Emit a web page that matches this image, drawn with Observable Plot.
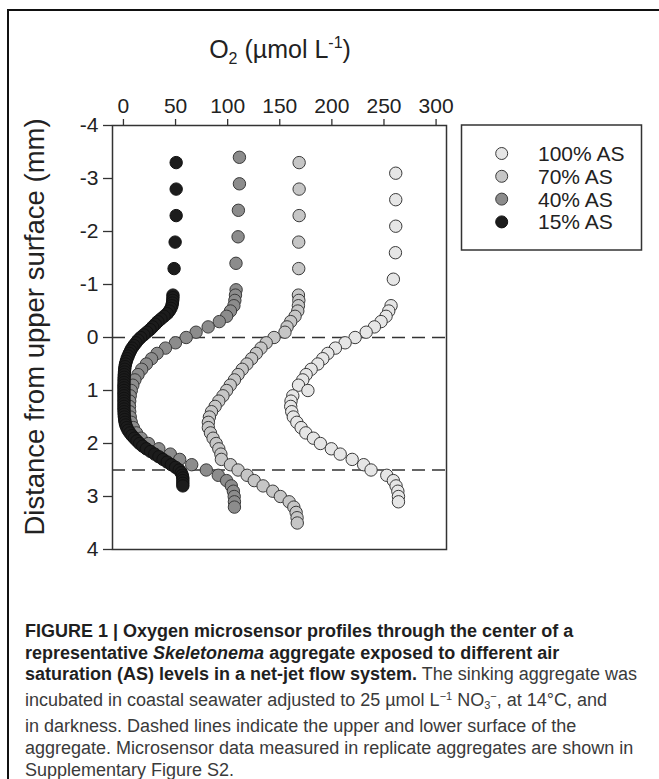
<!DOCTYPE html>
<html>
<head>
<meta charset="utf-8">
<script src="https://cdn.jsdelivr.net/npm/d3@7"></script>
<script src="https://cdn.jsdelivr.net/npm/@observablehq/plot@0.6"></script>
<style>
  html, body { margin: 0; padding: 0; background: #fff; }
  #fig { position: relative; width: 659px; height: 779px; overflow: hidden; background: #fff; font-family: "Liberation Sans", Arial, Helvetica, sans-serif; }
  #border { position: absolute; left: 7px; top: 9px; width: 660px; height: 780px; border-top: 2.5px solid #111; border-left: 2.5px solid #111; box-sizing: border-box; }
  #chart { position: absolute; left: 0; top: 0; }
  #legend { position: absolute; left: 0; top: 0; }
  #caption { position: absolute; left: 25px; top: 621px; width: 630px; font-size: 18px; line-height: 21.6px; color: #3a3a3a; white-space: nowrap; font-family: "Liberation Sans", Arial, sans-serif; }
  #caption b { color: #1f1f1f; }
</style>
</head>
<body>
<div id="fig">
  <div id="border"></div>
  <div id="chart"></div>
  <div id="legend"></div>
  <div id="caption"></div>
</div>
<script>
// ---- data: [depth (mm), O2 (µmol L-1)] ----
const profile15 = [
  [-3.3,50.6],[-2.8,50.6],[-2.3,50.6],[-1.8,49.6],[-1.3,48.6],
  [-0.8,47.5],[-0.75,47.5],[-0.7,47.3],[-0.65,47.0],[-0.6,46.5],[-0.55,45.5],[-0.5,44.0],[-0.45,42.0],
  [-0.4,39.0],[-0.35,36.0],[-0.3,33.0],[-0.25,30.5],[-0.2,28.0],[-0.15,25.5],[-0.1,22.5],[-0.05,19.5],
  [0,16.5],[0.05,14.0],[0.1,12.0],[0.15,10.0],[0.2,8.2],[0.25,6.8],[0.3,5.6],[0.35,4.5],[0.4,3.5],
  [0.45,2.7],[0.5,2.0],[0.55,1.5],[0.6,1.2],[0.65,1.0],[0.7,0.8],[0.75,0.7],[0.8,0.6],[0.85,0.6],
  [0.9,0.5],[0.95,0.5],[1.0,0.5],[1.05,0.5],[1.1,0.5],[1.15,0.5],[1.2,0.5],[1.25,0.5],[1.3,0.5],
  [1.35,0.5],[1.4,0.6],[1.45,0.7],[1.5,0.9],[1.55,1.2],[1.6,1.6],[1.65,2.2],[1.7,3.2],[1.75,4.5],
  [1.8,6.2],[1.85,8.2],[1.9,10.5],[1.95,13.0],[2.0,15.5],[2.05,18.5],[2.1,22.0],[2.15,26.0],
  [2.2,30.0],[2.25,34.0],[2.3,38.0],[2.35,42.0],[2.4,46.0],[2.45,50.0],[2.5,53.5],[2.55,55.5],
  [2.6,56.5],[2.65,57.0],[2.7,57.0],[2.75,57.0],[2.8,57.0]
];
const profile40 = [
  [-3.4,111.3],[-2.9,111.3],[-2.4,110.3],[-1.9,110.0],[-1.4,108.0],
  [-0.9,108.1],[-0.8,107.5],[-0.7,106.9],[-0.6,106.0],[-0.5,102.7],[-0.4,99.0],[-0.3,92.0],
  [-0.2,81.3],[-0.1,69.7],[0.0,60.2],[0.1,49.9],[0.2,40.3],[0.3,32.3],[0.4,27.0],[0.5,22.0],
  [0.6,17.5],[0.7,14.0],[0.8,11.0],[0.9,9.0],[1.0,7.5],[1.1,6.5],[1.2,6.0],[1.3,5.8],[1.4,6.0],
  [1.5,6.5],[1.6,7.5],[1.7,9.5],[1.8,12.5],[1.9,17.0],[2.0,24.0],[2.1,34.0],[2.2,45.0],[2.3,54.0],
  [2.4,65.5],[2.5,79.5],[2.6,91.0],[2.7,99.0],[2.8,103.5],[2.9,105.5],[3.0,106.3],[3.1,106.5],[3.2,106.5]
];
const profile70 = [
  [-3.3,168.6],[-2.8,168.6],[-2.3,168.6],[-1.8,168.2],[-1.3,168.2],
  [-0.8,167.9],[-0.7,168.3],[-0.6,167.9],[-0.5,167.3],[-0.4,164.7],[-0.3,160.5],[-0.2,157.0],
  [-0.1,155.0],[0.0,144.5],[0.1,137.0],[0.2,132.0],[0.3,127.5],[0.4,123.0],[0.5,118.5],[0.6,114.0],
  [0.7,110.0],[0.8,106.5],[0.9,102.5],[1.0,99.0],[1.1,95.5],[1.2,91.5],[1.3,88.0],[1.4,84.5],
  [1.5,82.5],[1.6,81.5],[1.7,81.5],[1.8,83.5],[1.9,86.0],[2.0,89.0],[2.1,91.5],[2.2,93.5],[2.3,94.0],
  [2.4,102.7],[2.5,110.0],[2.6,118.7],[2.7,125.5],[2.8,134.0],[2.9,143.3],[3.0,150.6],[3.1,159.0],
  [3.2,163.5],[3.3,165.7],[3.4,166.6],[3.5,166.8]
];
const profile100 = [
  [-3.1,261.3],[-2.6,261.3],[-2.1,261.3],[-1.6,261.0],[-1.1,259.0],
  [-0.6,256.8],[-0.5,254.6],[-0.4,252.0],[-0.3,247.2],[-0.2,240.8],[-0.1,232.9],[0.0,222.3],
  [0.1,212.7],[0.2,203.4],[0.3,196.1],[0.4,191.3],[0.5,186.5],[0.6,180.1],[0.7,175.3],[0.8,172.1],
  [0.9,168.0],[1.0,177.0],[1.1,162.5],[1.2,160.8],[1.3,160.5],[1.4,161.5],[1.5,163.0],[1.6,166.4],
  [1.7,170.5],[1.8,175.0],[1.9,182.3],[2.0,189.0],[2.1,199.5],[2.2,208.0],[2.3,219.5],[2.4,230.5],
  [2.5,237.6],[2.6,252.7],[2.7,259.0],[2.8,261.6],[2.9,263.3],[3.0,263.9],[3.1,263.9]
];
const seriesNames = ["100% AS", "70% AS", "40% AS", "15% AS"];
const seriesFills = ["#e6e6e6", "#c6c6c6", "#8c8c8c", "#1c1c1c"];
const xTicks = [0, 50, 100, 150, 200, 250, 300];
const yTicks = [-4, -3, -2, -1, 0, 1, 2, 3, 4];
const surfaces = [0, 2.5];

const profiles = [profile100, profile70, profile40, profile15];
const stroke = "#3a3a3a";

const chart = Plot.plot({
  width: 659,
  height: 579,
  marginLeft: 112,
  marginRight: 213,
  marginTop: 125,
  marginBottom: 30,
  style: { fontFamily: "'Liberation Sans', Arial, sans-serif", color: "#222", background: "transparent", overflow: "visible" },
  x: { domain: [-10.5, 310] },
  y: { domain: [-4, 4], reverse: true },
  marks: [
    Plot.ruleY(surfaces, { stroke: "#333", strokeWidth: 1.4, strokeDasharray: "13,7" }),
    ...profiles.map((p, i) => Plot.dot(p, {
      x: d => d[1], y: d => d[0], r: 6.2,
      fill: seriesFills[i], fillOpacity: 1,
      stroke: i === 3 ? "#111" : stroke, strokeWidth: 1
    })),
    Plot.frame({ stroke: "#333", strokeWidth: 1.5 }),
    Plot.axisX({ anchor: "top", ticks: xTicks, tickSize: 7, tickPadding: 6, fontSize: 21, label: null, tickFormat: d => String(d), stroke: "#333", strokeWidth: 1.3 }),
    Plot.axisY({ anchor: "left", ticks: yTicks, tickSize: 9, tickPadding: 5, fontSize: 21, label: null, tickFormat: d => String(d), stroke: "#333", strokeWidth: 1.3 })
  ]
});
document.getElementById("chart").appendChild(chart);

// axis titles
const svg = d3.select(chart);
const t = svg.append("text")
  .attr("x", 280).attr("y", 58)
  .attr("text-anchor", "middle")
  .attr("font-size", 25)
  .attr("fill", "#222");
t.append("tspan").text("O");
t.append("tspan").attr("font-size", 16).attr("dy", 6).text("2");
t.append("tspan").attr("dy", -6).text(" (µmol L");
t.append("tspan").attr("font-size", 16).attr("dy", -10).text("-1");
t.append("tspan").attr("dy", 10).text(")");

svg.append("text")
  .attr("transform", "translate(44,327) rotate(-90)")
  .attr("text-anchor", "middle")
  .attr("font-size", 27.5)
  .attr("fill", "#222")
  .text("Distance from upper surface (mm)");

// legend
const lg = d3.select("#legend").append("svg")
  .attr("width", 659).attr("height", 300)
  .style("font-family", "'Liberation Sans', Arial, sans-serif");
lg.append("rect").attr("x", 461.5).attr("y", 125).attr("width", 180).attr("height", 125)
  .attr("fill", "none").attr("stroke", "#333").attr("stroke-width", 1.5);
seriesNames.forEach((name, i) => {
  const cy = 153.5 + i * 22.8;
  lg.append("circle").attr("cx", 501.7).attr("cy", cy).attr("r", 6)
    .attr("fill", seriesFills[i]).attr("stroke", i === 3 ? "#111" : stroke).attr("stroke-width", 1);
  lg.append("text").attr("x", 538).attr("y", cy + 7.5).attr("font-size", 21).attr("fill", "#222").text(name);
});

// caption
document.getElementById("caption").innerHTML =
  "<b>FIGURE 1 | Oxygen microsensor profiles through the center of a</b><br>" +
  "<b>representative <i>Skeletonema</i> aggregate exposed to different air</b><br>" +
  "<b>saturation (AS) levels in a net-jet flow system.</b> The sinking aggregate was<br>" +
  "incubated in coastal seawater adjusted to 25 µmol L<sup style='font-size:11px;vertical-align:6px'>−1</sup> NO<sub style='font-size:11px;vertical-align:-3px'>3</sub><sup style='font-size:11px;vertical-align:6px'>−</sup>, at 14°C, and<br>" +
  "in darkness. Dashed lines indicate the upper and lower surface of the<br>" +
  "aggregate. Microsensor data measured in replicate aggregates are shown in<br>" +
  "Supplementary Figure S2.";
</script>
</body>
</html>
